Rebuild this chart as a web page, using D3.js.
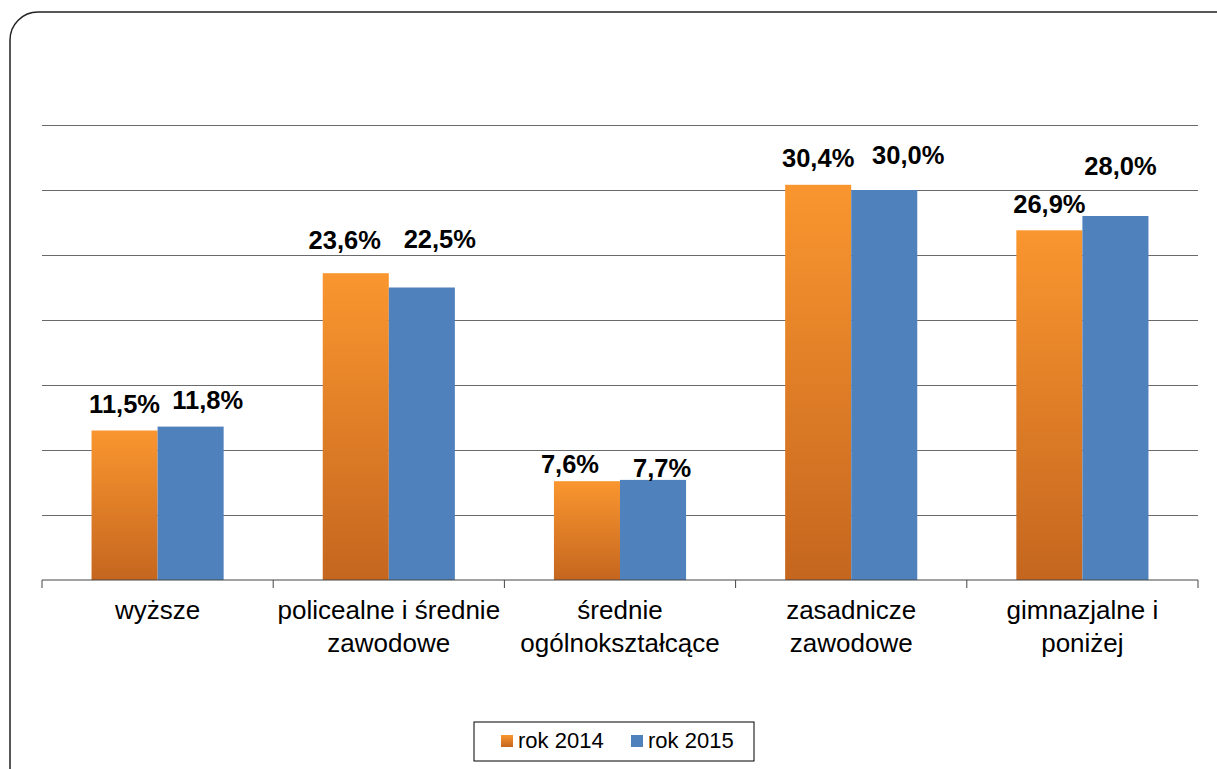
<!DOCTYPE html>
<html>
<head>
<meta charset="utf-8">
<script src="https://cdn.jsdelivr.net/npm/d3@7"></script>
<style>
  body { margin: 0; background: #fff; }
  text { font-family: "Liberation Sans", Arial, sans-serif; }
</style>
</head>
<body>
<svg id="svg" width="1217" height="769"></svg>
<script>
const categories = ['wyższe', 'policealne i średnie\nzawodowe', 'średnie\nogólnokształcące', 'zasadnicze\nzawodowe', 'gimnazjalne i\nponiżej']
const series = ['rok 2014', 'rok 2015']
const values2014 = [11.5, 23.6, 7.6, 30.4, 26.9]
const values2015 = [11.8, 22.5, 7.7, 30.0, 28.0]
const gridTicks = [5, 10, 15, 20, 25, 30, 35]

// label nudges (excel placed them by hand), [dx, lift above bar top]
const labelNudge2014 = [[0, 18], [-11, 24], [-17, 8], [0, 18], [0, 17]]
const labelNudge2015 = [[17, 18], [18, 40], [9, 3], [24, 26], [5, 41]]

const valuesBySeries = [values2014, values2015]
const nudgeBySeries = [labelNudge2014, labelNudge2015]

let svg = d3.select('#svg')

const margin = { top: 125, left: 42, right: 19, bottom: 189 }
const width = +svg.attr('width')
const height = +svg.attr('height')
const plotRight = width - margin.right
const plotBottom = height - margin.bottom

const defs = svg.append('defs')
const grad = defs.append('linearGradient')
    .attr('id', 'orangeGrad')
    .attr('x1', 0).attr('y1', 0).attr('x2', 0).attr('y2', 1)
grad.append('stop').attr('offset', '0%').attr('stop-color', '#FA962F')
grad.append('stop').attr('offset', '100%').attr('stop-color', '#C5661F')

const colors = ['url(#orangeGrad)', '#4F81BD']

// frame
svg.append('rect')
    .attr('x', 10).attr('y', 12)
    .attr('width', 1240).attr('height', 800)
    .attr('rx', 28).attr('ry', 28)
    .attr('fill', 'none')
    .attr('stroke', '#222')
    .attr('stroke-width', 1.5)

const x0 = d3.scaleBand()
    .domain(categories)
    .range([margin.left, plotRight])

const x1 = d3.scaleBand()
    .domain(series)
    .range([0, x0.bandwidth()])
    .paddingInner(0)
    .paddingOuter(0.75)

const yScale = d3.scaleLinear()
    .domain([0, 35])
    .range([plotBottom, margin.top])

// gridlines
const grid = svg.append('g')
    .attr('transform', `translate(${margin.left}, 0)`)
    .call(d3.axisLeft(yScale).tickValues(gridTicks).tickSize(-(plotRight - margin.left)).tickFormat(''))
grid.select('.domain').remove()
grid.selectAll('.tick line').attr('stroke', '#6a6a6a').attr('stroke-width', 1)

// bars
categories.forEach((c, i) => {
    series.forEach((s, j) => {
        const v = valuesBySeries[j][i]
        svg.append('rect')
            .attr('x', x0(c) + x1(s))
            .attr('y', yScale(v))
            .attr('width', x1.bandwidth())
            .attr('height', yScale(0) - yScale(v))
            .attr('fill', colors[j])
    })
})

// x axis baseline + ticks at category boundaries
svg.append('line')
    .attr('x1', margin.left).attr('x2', plotRight)
    .attr('y1', yScale(0)).attr('y2', yScale(0))
    .attr('stroke', '#444').attr('stroke-width', 1)

const bounds = categories.map(c => x0(c)).concat([x0.range()[1]])
bounds.forEach(b => {
    svg.append('line')
        .attr('x1', b).attr('x2', b)
        .attr('y1', yScale(0)).attr('y2', yScale(0) + 8)
        .attr('stroke', '#444')
})

// value labels
categories.forEach((c, i) => {
    series.forEach((s, j) => {
        const v = valuesBySeries[j][i]
        const n = nudgeBySeries[j][i]
        svg.append('text')
            .text(v.toFixed(1).replace('.', ',') + '%')
            .attr('x', x0(c) + x1(s) + x1.bandwidth() / 2 + n[0])
            .attr('y', yScale(v) - n[1])
            .attr('text-anchor', 'middle')
            .attr('font-size', '25.5px')
            .attr('font-weight', 'bold')
            .attr('fill', '#000')
    })
})

// category labels
categories.forEach(c => {
    const t = svg.append('text')
        .attr('text-anchor', 'middle')
        .attr('font-size', '26px')
        .attr('fill', '#000')
    c.split('\n').forEach((line, k) => {
        t.append('tspan')
            .attr('x', x0(c) + x0.bandwidth() / 2)
            .attr('y', 619 + k * 33)
            .text(line)
    })
})

// legend
const legend = svg.append('g')
legend.append('rect')
    .attr('x', 474).attr('y', 722)
    .attr('width', 280).attr('height', 39)
    .attr('fill', '#fff')
    .attr('stroke', '#000')
    .attr('stroke-width', 1)

const legendX = [501, 631]
series.forEach((s, j) => {
    legend.append('rect')
        .attr('x', legendX[j]).attr('y', 735)
        .attr('width', 12).attr('height', 12)
        .attr('fill', colors[j])
    legend.append('text')
        .text(s)
        .attr('x', legendX[j] + 17)
        .attr('y', 748)
        .attr('font-size', '22px')
        .attr('fill', '#000')
})
</script>
</body>
</html>
